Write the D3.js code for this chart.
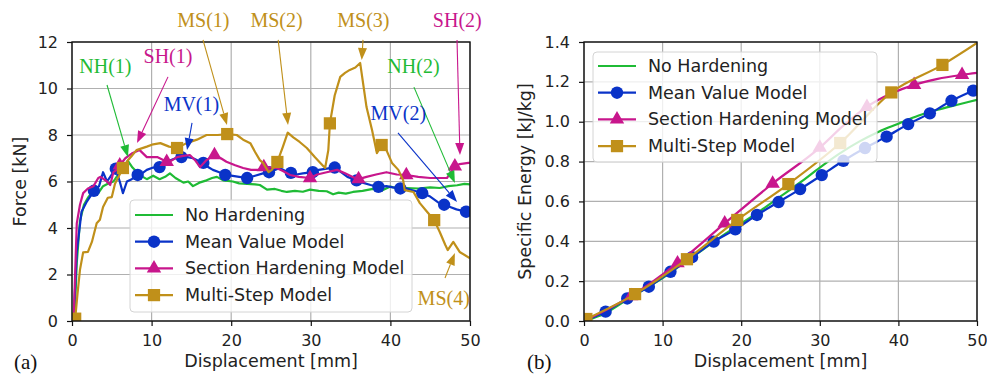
<!DOCTYPE html>
<html>
<head>
<meta charset="utf-8">
<script src="https://cdn.jsdelivr.net/npm/d3@7"></script>
<style>
  body { margin: 0; background: #fff; }
  text { font-family: "DejaVu Sans", sans-serif; }
  text.serif { font-family: "Liberation Serif", "Times New Roman", serif; }
</style>
</head>
<body>
<svg id="chart" width="987" height="374"></svg>
<script>
// ---- data ----
var seriesNames = ["No Hardening", "Mean Value Model", "Section Hardening Model", "Multi-Step Model"];

var dispTicks = [0, 10, 20, 30, 40, 50];
var forceTicks = [0, 2, 4, 6, 8, 10, 12];
var energyTicks = [0, 0.2, 0.4, 0.6, 0.8, 1.0, 1.2, 1.4];

// panel (a): force [kN] vs displacement [mm]
var forceNH = [[0.3,0],[0.6,2.5],[1.0,4.3],[1.5,5.0],[2.0,5.3],[2.7,5.6],[3.3,5.5],[3.9,5.8],[4.5,5.9],[5.2,6.0],
  [5.8,6.3],[6.4,6.5],[7.0,6.9],[7.6,6.6],[8.3,6.35],[8.9,6.2],[9.4,6.1],[10.2,6.25],[11,6.1],[11.7,6.2],
  [12.3,6.35],[13,6.15],[14,5.95],[14.6,6.0],[15.2,5.8],[16,5.95],[16.9,6.05],[17.6,6.15],[18.2,6.2],[19,6.05],
  [20.2,6.0],[21,5.92],[22,5.9],[23,5.88],[23.6,5.85],[24.5,5.65],[25.5,5.68],[26.3,5.6],[27,5.55],[28,5.6],
  [29,5.56],[29.9,5.65],[31,5.6],[32,5.58],[32.8,5.45],[33.5,5.52],[34.4,5.48],[35.3,5.55],[36.5,5.6],[37.8,5.68],
  [39,5.62],[40,5.78],[41,5.7],[42,5.72],[43.5,5.7],[45,5.75],[46.2,5.72],[47.3,5.8],[48.4,5.84],[49.3,5.9],[50,5.88]];
var forceMV = [[0.2,0],[0.6,3.0],[1.2,4.7],[1.8,5.1],[2.75,5.6],[3.4,5.8],[3.9,6.4],[4.4,6.0],[4.8,6.2],[5.5,6.55],
  [6.0,6.0],[6.4,5.5],[6.9,6.0],[7.5,6.1],[8.25,6.28],[8.8,6.35],[9.4,6.5],[10.2,6.6],[11,6.62],[11.6,6.75],
  [12.3,6.9],[13,7.0],[13.75,7.05],[14.5,7.05],[15.2,7.0],[15.8,6.9],[16.5,6.8],[17.2,6.6],[17.7,6.5],[18.5,6.4],
  [19.25,6.28],[20,6.25],[21,6.2],[22,6.15],[23,6.25],[24,6.35],[24.75,6.4],[25.5,6.5],[26.1,6.58],[26.8,6.45],
  [27.5,6.37],[28.2,6.3],[29,6.35],[30.25,6.4],[31,6.5],[32,6.55],[33,6.6],[33.8,6.4],[34.6,6.2],[35.75,6.05],
  [36.5,5.95],[37.5,5.85],[38.5,5.77],[39.5,5.8],[40.3,5.75],[41.25,5.7],[42,5.7],[43,5.6],[44,5.5],[45,5.35],
  [46,5.1],[46.75,5.0],[47.5,4.9],[48.3,4.8],[49.5,4.7],[50,4.6]];
var forceSH = [[0.2,0],[0.6,4.2],[1.0,5.0],[1.4,5.5],[2.0,5.7],[2.7,5.8],[3.3,6.15],[3.6,6.2],[4.4,6.0],[4.8,5.85],
  [5.2,6.4],[5.6,6.5],[6,6.7],[6.7,7.0],[7.5,7.2],[8.5,7.35],[9.4,7.05],[10.7,7.05],[11.9,6.85],[12.5,6.9],
  [13.2,7.05],[14,7.1],[14.8,7.14],[15.5,6.9],[16.1,6.62],[16.9,6.92],[17.9,7.14],[18.7,7.0],[19.4,6.85],[20.5,6.7],
  [21.5,6.58],[22.5,6.5],[23.4,6.5],[24.1,6.62],[25,6.6],[25.7,6.58],[26.5,6.45],[27.4,6.28],[28.5,6.2],[29.9,6.15],
  [30.8,6.3],[32,6.4],[33.3,6.5],[34.3,6.35],[35.2,6.2],[36,6.1],[37,6.2],[38.2,6.3],[39.5,6.4],[40.8,6.3],
  [42,6.28],[43.5,6.2],[45,6.15],[46,6.15],[47.1,6.15],[47.6,6.4],[48.1,6.65],[48.7,6.75],[49.8,6.8],[50,6.8]];
var forceMS = [[0.4,0.1],[0.7,1.2],[1.0,2.2],[1.4,2.95],[2.0,2.97],[2.5,3.4],[3.1,4.2],[3.5,4.35],[3.9,4.9],[4.5,5.3],
  [5.0,5.33],[5.4,5.9],[6.4,6.58],[7.0,6.9],[7.5,7.1],[8.1,7.35],[9.4,7.5],[10.2,7.6],[11.1,7.65],[12.2,7.5],
  [13.2,7.44],[14.4,7.65],[15.7,7.8],[16.9,8.0],[18.3,8.0],[19.5,8.04],[20.7,8.0],[21.5,7.8],[22.4,7.65],[23,7.27],
  [23.6,6.92],[24,6.8],[24.7,6.4],[25.1,6.5],[25.8,6.84],[26.5,7.5],[27.1,8.1],[27.8,7.9],[28.6,7.7],[29.5,7.44],
  [30.5,7.05],[31.2,6.8],[31.8,6.58],[32.2,7.35],[32.4,8.5],[33,9.7],[33.7,10.5],[34.3,10.67],[34.9,10.8],[35.6,10.9],
  [36.2,11.1],[37,9.2],[37.7,8.2],[38.3,7.22],[38.9,7.57],[39.5,7.35],[40.2,6.8],[41,6.5],[41.6,6.06],[41.8,5.63],
  [42.9,5.55],[43.7,5.07],[44.6,4.7],[45.5,4.34],[46.2,3.83],[46.9,3.27],[47.2,3.05],[47.9,3.4],[48.7,2.97],[50,2.7]];

// panel (b): specific energy [kJ/kg] vs displacement [mm]
var energyNH = [[0,0],[2.5,0.035],[5,0.095],[7.5,0.155],[10,0.215],[12.5,0.285],[15,0.355],[17.5,0.425],[20,0.49],
  [22.5,0.555],[25,0.625],[27.5,0.695],[30,0.77],[32.5,0.84],[35,0.9],[37.5,0.95],[40,0.99],[42.5,1.03],
  [45,1.06],[47.5,1.085],[50,1.11]];
var energyMV = [[0,0],[2.75,0.047],[5.5,0.113],[8.25,0.172],[11,0.247],[13.75,0.32],[16.5,0.398],[19.25,0.46],
  [22,0.532],[24.75,0.597],[27.5,0.662],[30.25,0.732],[33,0.804],[35.75,0.868],[38.5,0.925],[41.25,0.988],
  [44,1.042],[46.75,1.105],[49.5,1.156],[50,1.165]];
var energySH = [[0,0],[6,0.125],[11.9,0.29],[17.9,0.49],[24,0.69],[30,0.87],[33,0.98],[36,1.075],[39,1.14],
  [42,1.185],[45,1.215],[48.1,1.235],[50,1.245]];
var energyMS = [[0.3,0.01],[6.5,0.135],[13.1,0.31],[19.5,0.507],[26,0.687],[32.6,0.893],[39.1,1.147],
  [45.6,1.285],[50,1.395]];

// displacement of the markers on each curve
var markMV = [0.2, 2.75, 5.5, 8.25, 11, 13.75, 16.5, 19.25, 22, 24.75, 27.5, 30.25, 33, 35.75, 38.5, 41.25, 44, 46.75, 49.5];
var markSH = [0.2, 6, 11.9, 17.9, 24.1, 29.9, 36, 42, 48.1];
var markMS = [0.4, 6.4, 13.2, 19.5, 25.8, 32.4, 38.9, 45.5];
var eMarkMV = [0, 2.75, 5.5, 8.25, 11, 13.75, 16.5, 19.25, 22, 24.75, 27.5, 30.25, 33, 35.75, 38.5, 41.25, 44, 46.75, 49.5];
var eMarkSH = [0, 6, 11.9, 17.9, 24, 30, 36, 42, 48.1];
var eMarkMS = [0.3, 6.5, 13.1, 19.5, 26, 32.6, 39.1, 45.6];

// callouts in panel (a), data units: label, arrow tail, arrow head
var callouts = [
  { text: "NH(1)", s: 0, label: [4.2, 10.67], tail: [4.4, 10.15], head: [7.03, 7.05] },
  { text: "SH(1)", s: 2, label: [12.06, 11.1], tail: [12.06, 10.5], head: [8.17, 7.66] },
  { text: "MV(1)", s: 1, label: [15.0, 9.03], tail: [15.08, 8.52], head: [14.45, 7.35] },
  { text: "MS(1)", s: 3, label: [16.5, 12.65], tail: [16.46, 12.09], head: [19.47, 8.43] },
  { text: "MS(2)", s: 3, label: [25.7, 12.65], tail: [25.9, 12.09], head: [27.14, 8.43] },
  { text: "MS(3)", s: 3, label: [36.6, 12.65], tail: [36.56, 12.09], head: [36.4, 11.23] },
  { text: "SH(2)", s: 2, label: [48.4, 12.65], tail: [48.37, 12.09], head: [48.74, 7.14] },
  { text: "NH(2)", s: 0, label: [42.9, 10.67], tail: [42.96, 10.06], head: [48.1, 5.94] },
  { text: "MV(2)", s: 1, label: [41.0, 8.65], tail: [40.95, 8.09], head: [48.37, 5.12] },
  { text: "MS(4)", s: 3, label: [46.7, 0.69], tail: [46.86, 1.85], head: [48.1, 2.92] }
];

// ---- styles ----
var colors = ["#1fbb35", "#0a33c8", "#c8168c", "#c0901a"];
var symbols = [null, d3.symbolCircle, d3.symbolTriangle, d3.symbolSquare];
var symbolSizes = [0, 120, 90, 150];

var svg = d3.select("#chart");
var defs = svg.append("defs");

function drawPanel(p) {
  var x = d3.scaleLinear().domain([0, 50]).range([p.left, p.right]);
  var y = d3.scaleLinear().domain([0, p.yMax]).range([p.bottom, p.top]);
  var g = svg.append("g");

  // grid
  g.append("g").selectAll("line").data(dispTicks).join("line")
    .attr("x1", d => x(d)).attr("x2", d => x(d))
    .attr("y1", p.top).attr("y2", p.bottom)
    .attr("stroke", "#b0b0b0").attr("stroke-width", 1.2);
  g.append("g").selectAll("line").data(p.yTicks).join("line")
    .attr("y1", d => y(d)).attr("y2", d => y(d))
    .attr("x1", p.left).attr("x2", p.right)
    .attr("stroke", "#b0b0b0").attr("stroke-width", 1.2);

  defs.append("clipPath").attr("id", p.id + "-clip")
    .append("rect")
      .attr("x", p.left).attr("y", p.top)
      .attr("width", p.right - p.left).attr("height", p.bottom - p.top);

  var plot = g.append("g").attr("clip-path", "url(#" + p.id + "-clip)");
  var line = d3.line().x(d => x(d[0])).y(d => y(d[1])).curve(p.curve);

  p.series.forEach(function(data, i) {
    plot.append("path")
      .attr("fill", "none")
      .attr("stroke", colors[i])
      .attr("stroke-width", 2.2)
      .attr("stroke-linejoin", "round")
      .attr("d", line(data));
    if (p.marks[i]) {
      var pts = p.marks[i].map(mx => d3.least(data, d => Math.abs(d[0] - mx)));
      plot.append("g").selectAll("path").data(pts).join("path")
        .attr("transform", d => "translate(" + x(d[0]) + "," + y(d[1]) + ")")
        .attr("d", d3.symbol(symbols[i], symbolSizes[i]))
        .attr("fill", colors[i]);
    }
  });

  // frame
  g.append("rect")
    .attr("x", p.left).attr("y", p.top)
    .attr("width", p.right - p.left).attr("height", p.bottom - p.top)
    .attr("fill", "none").attr("stroke", "#111").attr("stroke-width", 1.4);

  var styleAxis = function(a) {
    a.select(".domain").remove();
    a.selectAll("line").attr("stroke", "#111").attr("stroke-width", 1.2);
    a.selectAll("text").attr("font-size", 16).attr("fill", "#222");
  };

  g.append("g")
    .attr("transform", "translate(0," + p.bottom + ")")
    .call(d3.axisBottom(x).tickValues(dispTicks).tickSize(5).tickPadding(9))
    .call(styleAxis);

  g.append("g")
    .attr("transform", "translate(" + p.left + ",0)")
    .call(d3.axisLeft(y).tickValues(p.yTicks).tickFormat(p.yFormat).tickSize(5).tickPadding(9))
    .call(styleAxis);

  g.append("text")
    .attr("x", (p.left + p.right) / 2).attr("y", 367)
    .attr("text-anchor", "middle")
    .attr("font-size", 17.5).attr("fill", "#222")
    .text("Displacement [mm]");

  g.append("text")
    .attr("transform", "translate(" + p.yLabelX + "," + ((p.top + p.bottom) / 2) + ") rotate(-90)")
    .attr("text-anchor", "middle")
    .attr("dominant-baseline", "central")
    .attr("font-size", 17.5).attr("fill", "#222")
    .text(p.yLabel);

  g.append("text")
    .attr("class", "serif")
    .attr("x", p.tagX).attr("y", 369)
    .attr("font-size", 21).attr("fill", "#111")
    .text(p.tag);

  // legend
  var lg = g.append("g");
  lg.append("rect")
    .attr("x", p.legend[0]).attr("y", p.legend[1])
    .attr("width", p.legend[2]).attr("height", p.legend[3])
    .attr("rx", 4)
    .attr("fill", "#fff").attr("fill-opacity", 0.8)
    .attr("stroke", "#d4d4d4").attr("stroke-width", 1);
  seriesNames.forEach(function(name, i) {
    var ry = p.legend[1] + p.legendRow0 + i * 26.7;
    var hx = p.legend[0] + 5;
    lg.append("line")
      .attr("x1", hx).attr("x2", hx + 38)
      .attr("y1", ry).attr("y2", ry)
      .attr("stroke", colors[i]).attr("stroke-width", 2.2);
    if (symbols[i]) {
      lg.append("path")
        .attr("transform", "translate(" + (hx + 19) + "," + ry + ")")
        .attr("d", d3.symbol(symbols[i], symbolSizes[i]))
        .attr("fill", colors[i]);
    }
    lg.append("text")
      .attr("x", hx + 50).attr("y", ry)
      .attr("dominant-baseline", "central")
      .attr("font-size", 17.5).attr("fill", "#222")
      .text(name);
  });

  return { x: x, y: y, g: g };
}

var a = drawPanel({
  id: "a", left: 72, right: 470, top: 42, bottom: 321,
  yMax: 12, yTicks: forceTicks, yFormat: d3.format("d"),
  yLabel: "Force [kN]", yLabelX: 20, tag: "(a)", tagX: 14,
  series: [forceNH, forceMV, forceSH, forceMS],
  marks: [null, markMV, markSH, markMS],
  curve: d3.curveLinear,
  legend: [130, 200, 282, 112], legendRow0: 15
});

drawPanel({
  id: "b", left: 584, right: 977, top: 42, bottom: 321,
  yMax: 1.4, yTicks: energyTicks, yFormat: d3.format(".1f"),
  yLabel: "Specific Energy [kJ/kg]", yLabelX: 525, tag: "(b)", tagX: 527,
  series: [energyNH, energyMV, energySH, energyMS],
  marks: [null, eMarkMV, eMarkSH, eMarkMS],
  curve: d3.curveMonotoneX,
  legend: [593, 52, 284, 110], legendRow0: 14
});

// callouts on panel (a)
var cg = svg.append("g");
callouts.forEach(function(c) {
  var col = colors[c.s];
  var tx = a.x(c.tail[0]), ty = a.y(c.tail[1]);
  var hx = a.x(c.head[0]), hy = a.y(c.head[1]);
  var ang = Math.atan2(hy - ty, hx - tx);
  var len = 12, half = 4.5;
  var bx = hx - len * Math.cos(ang), by = hy - len * Math.sin(ang);
  cg.append("line")
    .attr("x1", tx).attr("y1", ty).attr("x2", bx).attr("y2", by)
    .attr("stroke", col).attr("stroke-width", 1.1);
  var px = -Math.sin(ang) * half, py = Math.cos(ang) * half;
  cg.append("path")
    .attr("d", "M" + hx + "," + hy + "L" + (bx + px) + "," + (by + py) + "L" + (bx - px) + "," + (by - py) + "Z")
    .attr("fill", col);
  cg.append("text")
    .attr("class", "serif")
    .attr("x", a.x(c.label[0])).attr("y", a.y(c.label[1]))
    .attr("text-anchor", "middle")
    .attr("font-size", 20)
    .attr("fill", col)
    .text(c.text);
});
</script>
</body>
</html>
